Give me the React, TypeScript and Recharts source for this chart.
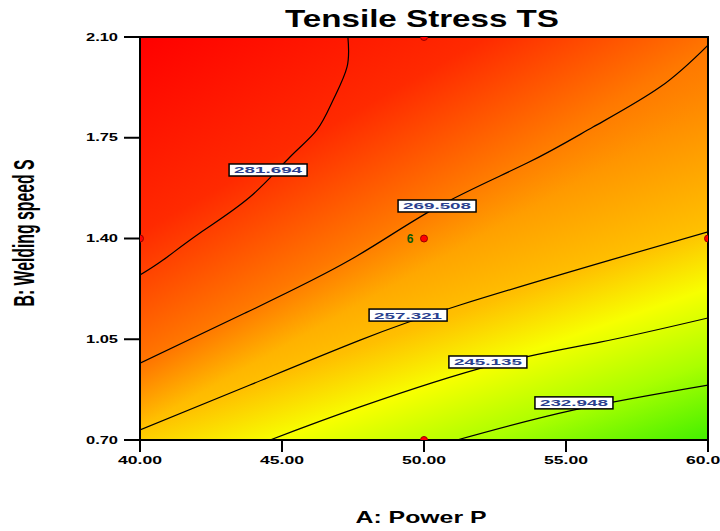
import React from 'react';
import { ScatterChart, Scatter, XAxis, YAxis, ReferenceArea } from 'recharts';

// axis ticks
const powerTicks = [40, 45, 50, 55, 60];
const speedTicks = [0.7, 1.05, 1.4, 1.75, 2.1];

// contour lines, from the red corner (high TS) to the green corner (low TS)
const c1x = [47.32, 47.29, 46.8, 46.23, 45.28, 43.87, 42.11, 40.81, 40.0];
const c1y = [2.1, 1.996, 1.881, 1.777, 1.683, 1.544, 1.419, 1.325, 1.273];
const c2x = [40.0, 43.7, 47.39, 50.46, 53.63, 55.95, 58.31, 60.0];
const c2y = [0.967, 1.141, 1.325, 1.509, 1.662, 1.787, 1.926, 2.072];
const c3x = [40.0, 43.87, 47.75, 51.27, 56.55, 60.0];
const c3y = [0.735, 0.891, 1.047, 1.169, 1.325, 1.423];
const c4x = [44.58, 47.75, 52.43, 56.2, 60.0];
const c4y = [0.7, 0.815, 0.961, 1.04, 1.124];
const c5x = [51.16, 55.25, 60.0];
const c5y = [0.7, 0.804, 0.891];

// contour labels
const contourValues = ['281.694', '269.508', '257.321', '245.135', '232.948'];
const labelX = [44.51, 50.46, 49.44, 52.25, 55.28];
const labelY = [1.638, 1.513, 1.134, 0.971, 0.829];

// design points
const designX = [50, 40, 60, 50, 50];
const designY = [2.1, 1.4, 1.4, 0.7, 1.4];
const designRuns = [1, 1, 1, 1, 6];

const toPts = (xs: number[], ys: number[]) => xs.map((x, i) => ({ x, y: ys[i] }));
const contours = [toPts(c1x, c1y), toPts(c2x, c2y), toPts(c3x, c3y), toPts(c4x, c4y), toPts(c5x, c5y)];
const labels = labelX.map((x, i) => ({ x, y: labelY[i], label: contourValues[i] }));
const design = designX.map((x, i) => ({ x, y: designY[i], runs: designRuns[i] }));

const font = '"Liberation Sans", Arial, sans-serif';

const Field = (props: any) => {
  const { x, y, width: w, height: h } = props;
  return (
    <g>
      <defs>
        <linearGradient id="tsBase" gradientUnits="userSpaceOnUse" x1={x} y1={y} x2={x + 0.33 * w} y2={y + 1.328 * h}>
          <stop offset="0" stopColor="#ff1000" />
          <stop offset="0.353" stopColor="#ff7300" />
          <stop offset="0.645" stopColor="#ffbf00" />
          <stop offset="0.75" stopColor="#f7ff00" />
          <stop offset="0.873" stopColor="#aaff00" />
          <stop offset="1" stopColor="#44f000" />
        </linearGradient>
        <linearGradient id="tsTop" gradientUnits="userSpaceOnUse" x1={x} y1={y} x2={x + 0.293 * w} y2={y + 0.737 * h}>
          <stop offset="0" stopColor="#ff0000" />
          <stop offset="0.5" stopColor="#ff2a00" />
          <stop offset="0.847" stopColor="#ff7800" />
          <stop offset="1" stopColor="#ff8c00" stopOpacity="0" />
        </linearGradient>
      </defs>
      <rect x={x} y={y} width={w} height={h} fill="url(#tsBase)" />
      <rect x={x} y={y} width={w} height={h} fill="url(#tsTop)" />
      <rect x={x} y={y} width={w} height={h} fill="none" stroke="#000" strokeWidth={2} />
    </g>
  );
};

const NoDot = () => <g />;

const ContourLabel = (props: any) => {
  const { cx, cy, payload } = props;
  return (
    <g>
      <rect x={cx - 39} y={cy - 6} width={78} height={12} fill="#fff" stroke="#000" strokeWidth={1.5} />
      <text x={cx} y={cy + 3.5} textAnchor="middle" fontSize={9} fontFamily={font} fontWeight="bold"
        textLength={68} lengthAdjust="spacingAndGlyphs" fill="#2a3f8f">{payload.label}</text>
    </g>
  );
};

const DesignPoint = (props: any) => {
  const { cx, cy, payload } = props;
  return (
    <g>
      <circle cx={cx} cy={cy} r={3.5} fill="#ff0000" stroke="#900" strokeWidth={1} />
      {payload.runs > 1 && (
        <text x={cx - 14} y={cy + 4.5} textAnchor="middle" fontSize={12} fontFamily={font} fontWeight="bold" fill="#0a5a0a">
          {payload.runs}
        </text>
      )}
    </g>
  );
};

const XTick = (props: any) => {
  const { x, y, payload } = props;
  return (
    <text x={x} y={y + 10} textAnchor="middle" fontSize={10} fontFamily={font} fontWeight="bold"
      textLength={44} lengthAdjust="spacingAndGlyphs" fill="#000">{payload.value.toFixed(2)}</text>
  );
};

const YTick = (props: any) => {
  const { x, y, payload } = props;
  return (
    <text x={x - 4} y={y + 3.5} textAnchor="end" fontSize={10} fontFamily={font} fontWeight="bold"
      textLength={32} lengthAdjust="spacingAndGlyphs" fill="#000">{payload.value.toFixed(2)}</text>
  );
};

export default function App() {
  return (
    <div style={{ position: 'absolute', left: 0, top: 0, width: 720, height: 531, background: '#fff' }}>
      <ScatterChart width={720} height={531} margin={{ top: 37, right: 12, bottom: 51, left: 0 }}>
        <XAxis type="number" dataKey="x" domain={[40, 60]} ticks={powerTicks} interval={0} allowDataOverflow
          tickSize={12} height={40} axisLine={{ stroke: '#000', strokeWidth: 2 }}
          tickLine={{ stroke: '#000', strokeWidth: 2 }} tick={XTick} />
        <YAxis type="number" dataKey="y" domain={[0.7, 2.1]} ticks={speedTicks} interval={0} allowDataOverflow
          tickSize={16} width={140} axisLine={{ stroke: '#000', strokeWidth: 2 }}
          tickLine={{ stroke: '#000', strokeWidth: 2 }} tick={YTick} />
        <ReferenceArea x1={40} x2={60} y1={0.7} y2={2.1} shape={Field} ifOverflow="visible" />
        {contours.map((pts, i) => (
          <Scatter key={i} data={pts} line={{ stroke: '#000', strokeWidth: 1.2 }} lineJointType="natural"
            shape={NoDot} isAnimationActive={false} legendType="none" />
        ))}
        <Scatter data={labels} shape={ContourLabel} isAnimationActive={false} legendType="none" />
        <Scatter data={design} shape={DesignPoint} isAnimationActive={false} legendType="none" />
      </ScatterChart>
      <svg width={720} height={531} style={{ position: 'absolute', left: 0, top: 0, pointerEvents: 'none' }}>
        <text x={422} y={27} textAnchor="middle" fontSize={24} fontFamily={font} fontWeight="bold"
          textLength={274} lengthAdjust="spacingAndGlyphs" fill="#000">Tensile Stress TS</text>
        <text x={421} y={523} textAnchor="middle" fontSize={17} fontFamily={font} fontWeight="bold"
          textLength={131} lengthAdjust="spacingAndGlyphs" fill="#000">A: Power P</text>
        <g transform="translate(34,233) rotate(-90) scale(1,1.6)">
          <text x={0} y={0} textAnchor="middle" fontSize={18} fontFamily={font} fontWeight="bold"
            textLength={147} lengthAdjust="spacingAndGlyphs" fill="#000">B: Welding speed S</text>
        </g>
      </svg>
    </div>
  );
}
